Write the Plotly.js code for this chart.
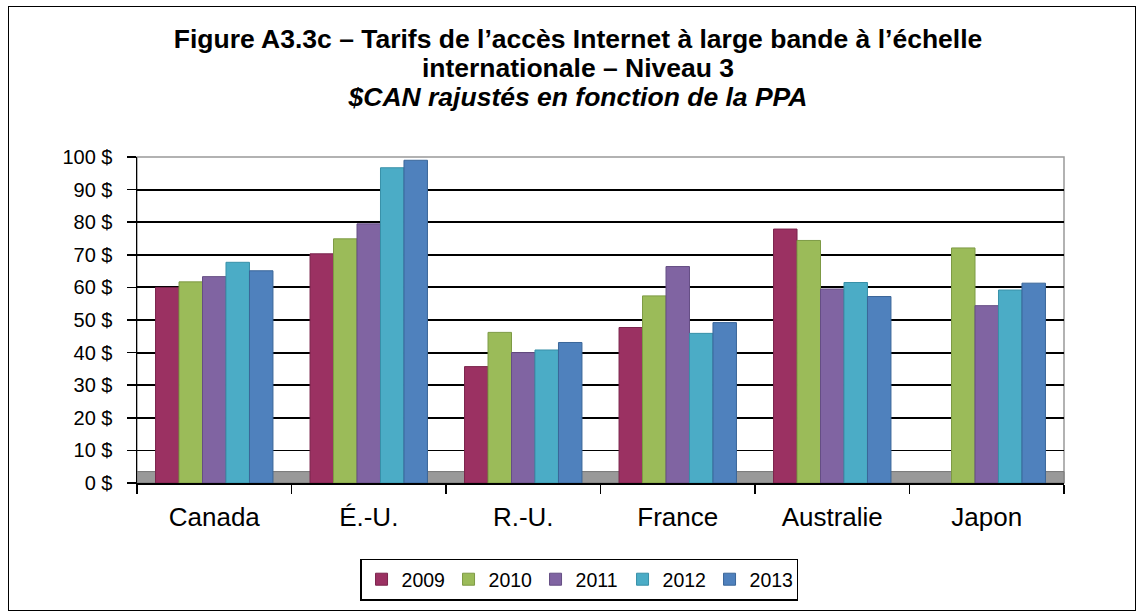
<!DOCTYPE html>
<html>
<head>
<meta charset="utf-8">
<script src="https://cdn.plot.ly/plotly-3.0.1.min.js"></script>
<style>
  html, body { margin: 0; padding: 0; background: #fff; }
  #chart { width: 1143px; height: 613px; position: absolute; left: 0; top: 0; }
  #frame { position: absolute; left: 8px; top: 6px; width: 1126px; height: 603px; border: 1px solid #000; pointer-events: none; }
</style>
</head>
<body>
<div id="chart"></div>
<div id="frame"></div>
<script>
const categories = ["Canada", "É.-U.", "R.-U.", "France", "Australie", "Japon"];
const years = ["2009", "2010", "2011", "2012", "2013"];
const v2009 = [60.0, 70.3, 35.7, 47.7, 77.9, null];
const v2010 = [61.7, 74.9, 46.2, 57.4, 74.4, 72.1];
const v2011 = [63.3, 79.5, 40.0, 66.4, 59.5, 54.4];
const v2012 = [67.7, 96.7, 40.8, 45.9, 61.5, 59.2];
const v2013 = [65.1, 99.0, 43.1, 49.2, 57.2, 61.3];
const yTicks = [0, 10, 20, 30, 40, 50, 60, 70, 80, 90, 100];
const yTickLabels = ["0 $", "10 $", "20 $", "30 $", "40 $", "50 $", "60 $", "70 $", "80 $", "90 $", "100 $"];

const series = [v2009, v2010, v2011, v2012, v2013];
const colors = ["#9B3162", "#9BBB59", "#8064A2", "#4BACC6", "#4F81BD"];
const edge = ["#7A244C", "#7D9A44", "#654E84", "#3890A8", "#3A6699"];

const traces = series.map((vals, i) => ({
  type: "bar",
  name: years[i],
  x: categories,
  y: vals,
  marker: { color: colors[i], line: { color: edge[i], width: 1 } },
  hoverinfo: "x+y+name"
}));

const layout = {
  width: 1143,
  height: 613,
  margin: { l: 137, r: 79, t: 157, b: 130 },
  paper_bgcolor: "rgba(0,0,0,0)",
  plot_bgcolor: "#fff",
  font: { family: "Liberation Sans, Arial, sans-serif", color: "#000" },
  title: {
    text: "<span style=\"font-size:26.5px\"><b>Figure A3.3c – Tarifs de l’accès Internet à large bande à l’échelle<br>internationale – Niveau 3<br><i>$CAN rajustés en fonction de la PPA</i></b></span>",
    x: 0.5057, xanchor: "center", xref: "container",
    y: 0.922, yanchor: "top", yref: "container",
    font: { size: 22.5, family: "Liberation Sans, Arial, sans-serif", color: "#000" }
  },
  barmode: "group",
  bargap: 0.24,
  bargroupgap: 0,
  showlegend: true,
  legend: {
    orientation: "h",
    x: 0.5066, xanchor: "center", xref: "container",
    y: 0.0546, yanchor: "middle", yref: "container",
    bordercolor: "#000", borderwidth: 1.5,
    font: { size: 19.5 },
    itemwidth: 30,
    entrywidth: 42,
    traceorder: "normal"
  },
  xaxis: {
    type: "category",
    showline: true, linecolor: "#000", linewidth: 1.5,
    ticks: "outside", tickson: "boundaries", ticklen: 9, tickcolor: "#000", tickwidth: 1.5,
    tickfont: { size: 26 },
    ticklabelstandoff: 10,
    showgrid: false
  },
  yaxis: {
    range: [0, 100],
    tickvals: yTicks,
    ticktext: yTickLabels,
    tickfont: { size: 20 },
    showline: true, linecolor: "#000", linewidth: 1.5,
    ticks: "outside", ticklen: 9, tickcolor: "#000", tickwidth: 1.5,
    ticklabelstandoff: 10,
    showgrid: true, gridcolor: "#000", gridwidth: 1.8,
    zeroline: false
  },
  shapes: [
    { type: "rect", xref: "paper", yref: "paper", x0: 0, x1: 1, y0: 0, y1: 1,
      line: { color: "#999", width: 1.5 }, fillcolor: "rgba(0,0,0,0)", layer: "below" },
    { type: "rect", xref: "paper", yref: "paper", x0: 0, x1: 1, y0: 0, y1: 0.035,
      line: { color: "#777", width: 1 }, fillcolor: "#999", layer: "below" }
  ]
};

Plotly.newPlot("chart", traces, layout, { displayModeBar: false, staticPlot: true });
</script>
</body>
</html>
